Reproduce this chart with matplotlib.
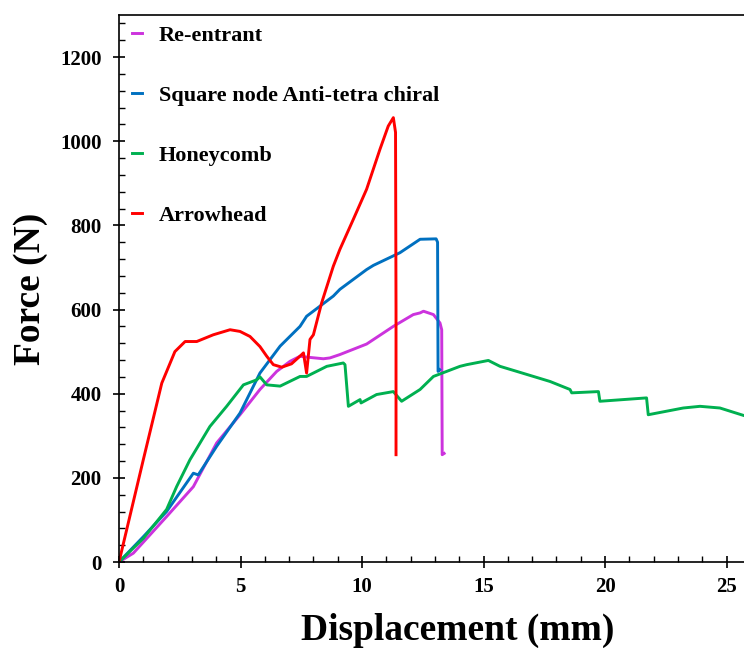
import matplotlib
matplotlib.use("Agg")
import matplotlib.pyplot as plt
from matplotlib.ticker import MultipleLocator

plt.rcParams['font.family'] = ['Liberation Serif', 'DejaVu Serif']
plt.rcParams['font.weight'] = 'bold'

# Re-entrant
re_x = [0, 0.59, 1.96, 3.06, 4.02, 4.98, 5.8, 6.49, 7.04, 7.45, 7.72, 8.41, 8.68, 9.09,
        10.19, 11.29, 12.11, 12.39, 12.53, 12.94, 13.21, 13.28, 13.3, 13.38]
re_y = [0, 21, 108, 179, 283, 350, 410, 453, 477, 489, 487, 483, 485, 493,
        518, 560, 588, 592, 596, 588, 568, 552, 255, 258]

# Square node Anti-tetra chiral
sq_x = [0, 1.0, 1.96, 3.06, 3.26, 4.02, 4.98, 5.8, 6.63, 7.45, 7.72, 8.82, 9.09, 10.19,
        10.47, 11.56, 12.39, 13.05, 13.11, 13.13, 13.2]
sq_y = [0, 60, 120, 211, 207, 275, 354, 449, 513, 560, 584, 632, 648, 695,
        705, 735, 767, 768, 760, 453, 457]

# Honeycomb
hc_x = [0, 1.0, 1.96, 2.37, 2.92, 3.74, 4.43, 5.12, 5.67, 5.8, 6.08, 6.63, 7.45, 7.72,
        8.55, 9.23, 9.3, 9.44, 9.92, 9.96, 10.6, 11.29, 11.63, 12.39, 12.94, 14.03,
        14.31, 15.2, 15.68, 16.37, 17.74, 18.56, 18.63, 19.73, 19.79, 21.71, 21.78,
        23.22, 23.91, 24.73, 25.72, 26.5]
hc_y = [0, 56, 125, 179, 243, 322, 370, 421, 433, 440, 421, 418, 441, 441,
        465, 473, 469, 370, 386, 378, 398, 405, 382, 410, 441, 465,
        469, 479, 465, 453, 429, 410, 402, 405, 382, 390, 350,
        366, 370, 366, 348, 340]

# Arrowhead
ar_x = [0, 1.0, 1.76, 2.30, 2.72, 3.2, 3.88, 4.57, 4.98, 5.39, 5.8, 6.08, 6.35, 6.7,
        7.1, 7.52, 7.59, 7.72, 7.86, 8.0, 8.34, 8.82, 9.09, 9.64, 10.19, 10.74,
        11.08, 11.29, 11.38, 11.40, 11.40]
ar_y = [0, 243, 425, 500, 524, 524, 540, 552, 548, 536, 512, 489, 469, 463,
        471, 493, 497, 449, 529, 540, 616, 703, 743, 814, 886, 981,
        1036, 1056, 1021, 600, 255]

x_ticks = [0, 5, 10, 15, 20, 25]
y_ticks = [0, 200, 400, 600, 800, 1000, 1200]

W, H = 744, 648
left_px, right_px, top_px, bot_px = 119, 797, 15, 562
fig = plt.figure(figsize=(W/100, H/100), dpi=100)
ax = fig.add_axes([left_px/W, 1-bot_px/H, (right_px-left_px)/W, (bot_px-top_px)/H])

lw = 2.1
ax.plot(re_x, re_y, color='#CC33DD', lw=lw, label='Re-entrant')
ax.plot(sq_x, sq_y, color='#0070C0', lw=lw, label='Square node Anti-tetra chiral')
ax.plot(hc_x, hc_y, color='#00B050', lw=lw, label='Honeycomb')
ax.plot(ar_x, ar_y, color='#FF0000', lw=lw, label='Arrowhead')

ax.set_xlim(0, (right_px-left_px)/24.3)
ax.set_ylim(0, 1300)
ax.set_xticks(x_ticks)
ax.set_yticks(y_ticks)
ax.xaxis.set_minor_locator(MultipleLocator(1))
ax.yaxis.set_minor_locator(MultipleLocator(40))
ax.tick_params(which='major', direction='inout', length=9, width=1.2, labelsize=15)
ax.tick_params(axis='y', which='major', pad=8)
ax.tick_params(axis='x', which='major', pad=6)
ax.tick_params(which='minor', direction='in', length=4, width=1.0)
for lab in ax.get_xticklabels() + ax.get_yticklabels():
    lab.set_fontweight('bold')
for s in ax.spines.values():
    s.set_linewidth(1.2)

ax.set_xlabel('Displacement (mm)', fontsize=27, fontweight='bold', labelpad=12)
ax.set_ylabel('Force (N)', fontsize=27, fontweight='bold', labelpad=8.5)

leg = ax.legend(loc='upper left',
                bbox_to_anchor=(13/(right_px-left_px), 1 - 10/(bot_px-top_px)),
                frameon=False,
                prop={'family': 'Liberation Serif', 'weight': 'bold', 'size': 16},
                handlelength=0.45, handletextpad=0.75, labelspacing=1.78,
                borderaxespad=0.0, borderpad=0.0)

fig.savefig('out.png', dpi=100)
